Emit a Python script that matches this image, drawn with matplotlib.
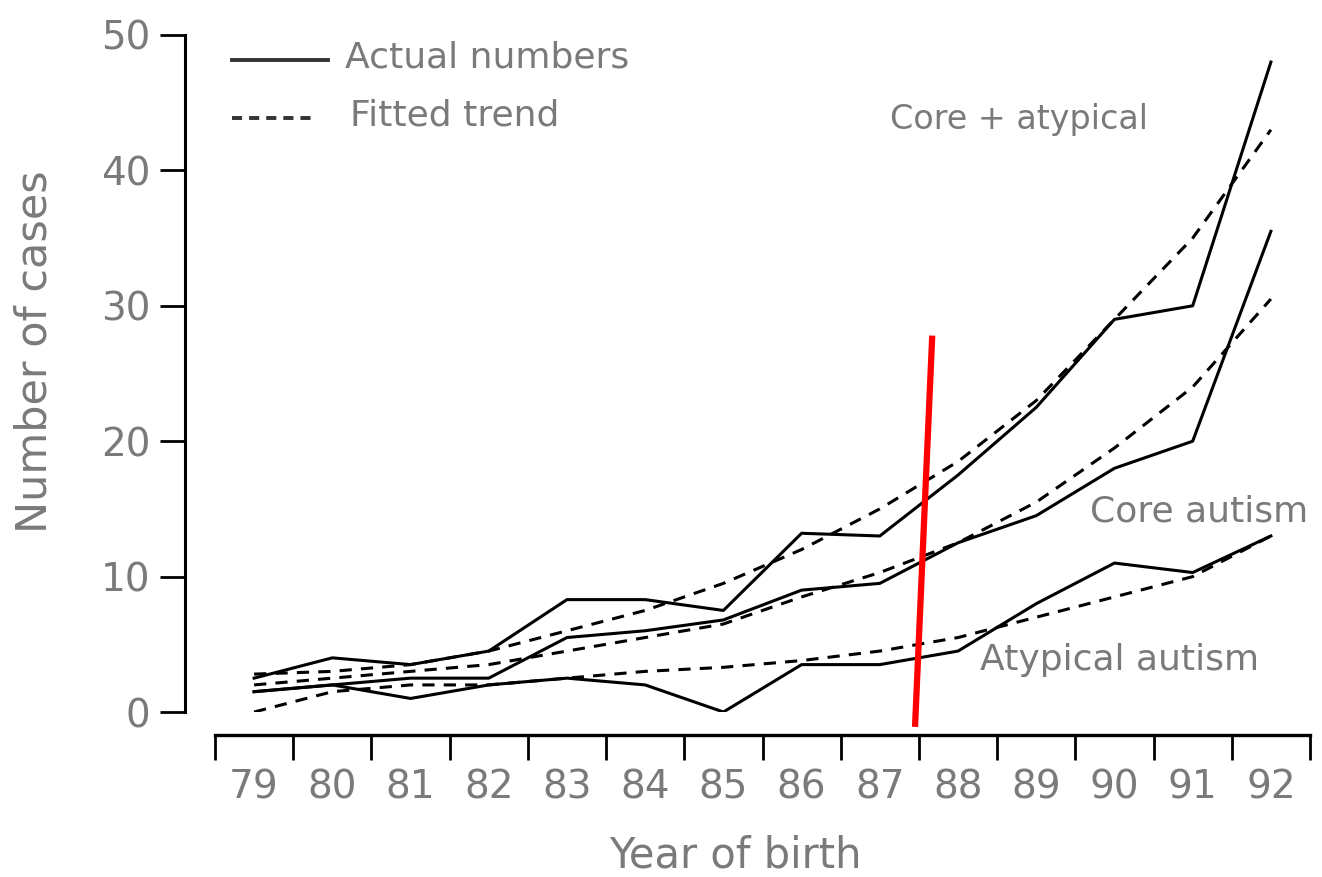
import matplotlib
matplotlib.use("Agg")
import matplotlib.pyplot as plt
import numpy as np

# year of birth (19xx) and yearly case counts
years = [79, 80, 81, 82, 83, 84, 85, 86, 87, 88, 89, 90, 91, 92]
year_labels = [str(y) for y in years]

core_atyp_actual = [2.5, 4, 3.5, 4.5, 8.3, 8.3, 7.5, 13.2, 13, 17.5, 22.5, 29, 30, 48]
core_atyp_fit = [2.8, 3, 3.5, 4.5, 6, 7.5, 9.5, 12, 15, 18.5, 23, 29, 35, 43]
core_actual = [1.5, 2, 2.5, 2.5, 5.5, 6, 6.8, 9, 9.5, 12.5, 14.5, 18, 20, 35.5]
core_fit = [2, 2.5, 3, 3.5, 4.5, 5.5, 6.5, 8.5, 10.3, 12.5, 15.5, 19.5, 24, 30.5]
atyp_actual = [1.5, 2, 1, 2, 2.5, 2, 0, 3.5, 3.5, 4.5, 8, 11, 10.3, 13]
atyp_fit = [0, 1.5, 2, 2, 2.5, 3, 3.3, 3.8, 4.5, 5.5, 7, 8.5, 10, 13]

y_ticks = [0, 10, 20, 30, 40, 50]

# hand-drawn red marker line (year, cases)
red_x = [87.45, 87.67]
red_y = [-1.1, 27.8]

W, H = 1322, 877
fig = plt.figure(figsize=(W / 100, H / 100), dpi=100)
ax = fig.add_axes([185 / W, 1 - 712 / H, (1310 - 185) / W, (712 - 35) / H])

grey = "#7a7a7a"
lw = 2.2
dash = (4, 3)

ax.plot(years, core_atyp_actual, color="black", lw=lw)
ax.plot(years, core_atyp_fit, color="black", lw=lw, dashes=dash)
ax.plot(years, core_actual, color="black", lw=lw)
ax.plot(years, core_fit, color="black", lw=lw, dashes=dash)
ax.plot(years, atyp_actual, color="black", lw=lw)
ax.plot(years, atyp_fit, color="black", lw=lw, dashes=dash)

ax.plot(red_x, red_y, color="red", lw=4.5, clip_on=False, solid_capstyle="butt")

ax.set_xlim(78.5 - 30 / 78.2, 92.5)
ax.set_ylim(0, 50)

for s in ["top", "right"]:
    ax.spines[s].set_visible(False)
ax.spines["left"].set_linewidth(2.2)
ax.spines["left"].set_bounds(0, 50)
ax.spines["bottom"].set_linewidth(2.4)
ax.spines["bottom"].set_position(("outward", 16.5))
ax.spines["bottom"].set_bounds(78.5, 92.5)

ax.set_yticks(y_ticks)
ax.set_yticklabels([str(v) for v in y_ticks])
ax.tick_params(axis="y", length=18, width=2, pad=7, labelsize=28, labelcolor=grey)

ax.set_xticks(np.arange(78.5, 93, 1.0))
ax.set_xticklabels([])
ax.set_xticks(years, minor=True)
ax.set_xticklabels(year_labels, minor=True)
ax.tick_params(axis="x", which="major", length=18, width=2)
ax.tick_params(axis="x", which="minor", length=0, pad=24, labelsize=28, labelcolor=grey)

fig.text(735 / W, 1 - 855 / H, "Year of birth", ha="center", va="center",
         fontsize=30, color=grey)
fig.text(35 / W, 1 - 352 / H, "Number of cases", ha="center", va="center",
         rotation=90, fontsize=31, color=grey)

# legend drawn by hand
fig.add_artist(plt.Line2D([232 / W, 328 / W], [1 - 60 / H, 1 - 60 / H],
                          color="#333333", lw=2.8))
fig.add_artist(plt.Line2D([232 / W, 312 / W], [1 - 118 / H, 1 - 118 / H],
                          color="#333333", lw=2.8, dashes=(2.6, 1.8)))
fig.text(345 / W, 1 - 58 / H, "Actual numbers", ha="left", va="center",
         fontsize=26, color=grey)
fig.text(350 / W, 1 - 115 / H, "Fitted trend", ha="left", va="center",
         fontsize=26, color=grey)

fig.text(890 / W, 1 - 120 / H, "Core + atypical", ha="left", va="center",
         fontsize=24, color=grey)
fig.text(1090 / W, 1 - 512 / H, "Core autism", ha="left", va="center",
         fontsize=26, color=grey)
fig.text(980 / W, 1 - 660 / H, "Atypical autism", ha="left", va="center",
         fontsize=26, color=grey)

fig.savefig("out.png", dpi=100)
